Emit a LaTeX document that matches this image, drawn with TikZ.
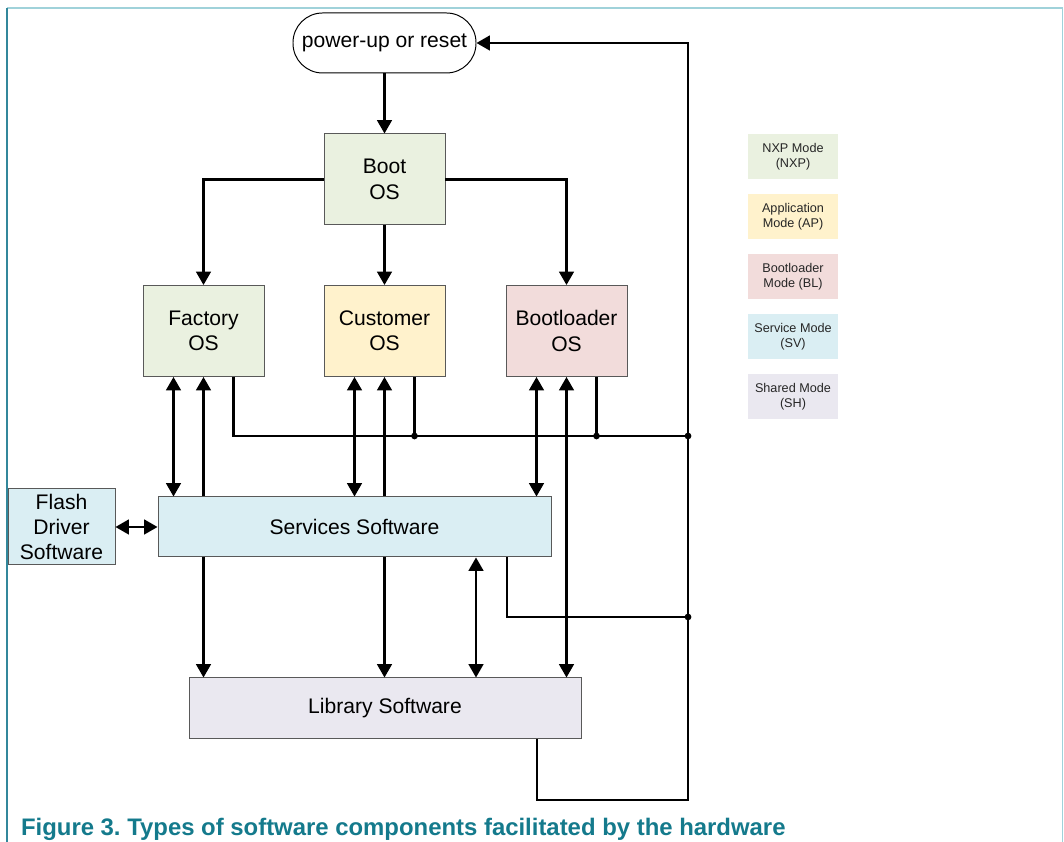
\documentclass[tikz,border=0pt]{standalone}
\usepackage{fontspec}
\setmainfont{Liberation Sans}
\usetikzlibrary{arrows.meta}
\frenchspacing
\definecolor{nxpgreen}{RGB}{234,241,224}
\definecolor{apyellow}{RGB}{255,242,204}
\definecolor{blpink}{RGB}{242,220,219}
\definecolor{svblue}{RGB}{218,238,243}
\definecolor{shgrey}{RGB}{234,232,240}
\definecolor{capteal}{RGB}{20,122,140}
\definecolor{framelight}{RGB}{160,210,218}
\definecolor{framedark}{RGB}{50,135,155}
\tikzset{
  blk/.style={draw=black!65, line width=0.7pt, minimum width=3.025cm, minimum height=2.275cm,
    align=center, font=\fontsize{15}{18}\selectfont},
  wide/.style={blk, minimum width=9.8cm, minimum height=1.5cm},
  key/.style={minimum width=2.25cm, minimum height=1.125cm, align=center,
    font=\fontsize{9}{10.7}\selectfont, text=black!85},
  start/.style={draw, line width=0.7pt, rounded corners=0.74cm, minimum width=4.575cm,
    minimum height=1.5cm, font=\fontsize{15}{18}\selectfont},
}
\begin{document}
\begin{tikzpicture}[line width=1.5pt, >={Triangle[width=10.5pt,length=9.5pt]}]
  \useasboundingbox (0,0) rectangle (26.6,21.05);
  \draw[line width=0.8pt, framelight] (0.175,20.85) -- (26.56,20.85) -- (26.56,0);
  \draw[line width=0.8pt, framedark] (0.175,0) -- (0.175,20.85);

  \node[start] (power) at (9.6125,19.975) {power-up or reset};
  \node[blk, fill=nxpgreen, below of=power, node distance=3.4125cm] (boot) {Boot\\OS};
  \node[blk, fill=apyellow, below of=boot, node distance=3.7875cm] (customer) {Customer\\OS};
  \node[blk, fill=nxpgreen, left of=customer, node distance=4.525cm] (factory) {Factory\\OS};
  \node[blk, fill=blpink, right of=customer, node distance=4.55cm] (bootloader) {Bootloader\\OS};
  \node[wide, fill=svblue, below of=customer, node distance=4.9cm, xshift=-0.75cm,
    minimum width=9.825cm] (services) {Services Software};
  \node[wide, fill=shgrey, below of=services, node distance=4.5375cm, xshift=0.7625cm,
    minimum height=1.525cm] (library) {Library Software};
  \node[blk, fill=svblue, left of=services, node distance=7.325cm, minimum width=2.675cm,
    minimum height=1.9cm] (flash) {Flash\\Driver\\Software};

  % legend
  \node[key, fill=nxpgreen, right of=boot, node distance=10.2125cm, yshift=0.5625cm] (knxp) {NXP Mode\\(NXP)};
  \node[key, fill=apyellow, below of=knxp, node distance=1.5cm] (kap) {Application\\Mode (AP)};
  \node[key, fill=blpink, below of=kap, node distance=1.5cm] (kbl) {Bootloader\\Mode (BL)};
  \node[key, fill=svblue, below of=kbl, node distance=1.5cm] (ksv) {Service Mode\\(SV)};
  \node[key, fill=shgrey, below of=ksv, node distance=1.5cm] (ksh) {Shared Mode\\(SH)};

  \coordinate (rtop) at (17.2,19.975);
  \coordinate (jos) at (17.2,10.15);
  \coordinate (jsv) at (17.2,5.625);
  \coordinate (rbot) at (17.2,1.05);

  \draw[->] (power) -- (boot);
  \draw[->] (boot) -- (customer);
  \draw[->] (boot.west) -| (factory.north);
  \draw[->] (boot.east) -| (bootloader.north);

  \draw[<->] ([xshift=-0.75cm]factory.south) -- ([xshift=-0.75cm]factory.south |- services.north);
  \draw[->] (factory.south |- services.north) -- (factory.south);
  \draw[<->] ([xshift=-0.75cm]customer.south) -- ([xshift=-0.75cm]customer.south |- services.north);
  \draw[->] (customer.south |- services.north) -- (customer.south);
  \draw[<->] ([xshift=-0.75cm]bootloader.south) -- ([xshift=-0.75cm]bootloader.south |- services.north);
  \draw[<->] (bootloader.south) -- (bootloader.south |- library.north);

  \draw[->] (factory.south |- services.south) -- (factory.south |- library.north);
  \draw[->] (customer.south |- services.south) -- (customer.south |- library.north);
  \draw[<->] ([xshift=3.0375cm]services.south) -- ([xshift=3.0375cm]services.south |- library.north);
  \draw[<->] (flash) -- (services);

  % back to reset
  \draw ([xshift=0.75cm]factory.south) |- (jos);
  \draw ([xshift=0.75cm]customer.south) -- ([xshift=0.75cm]customer.south |- jos);
  \draw ([xshift=0.75cm]bootloader.south) -- ([xshift=0.75cm]bootloader.south |- jos);
  \draw ([xshift=3.8125cm]services.south) |- (jsv);
  \draw[->] ([xshift=3.8cm]library.south) |- (rbot) -- (rtop) -- (power);
  \fill ([xshift=0.75cm]customer.south |- jos) circle (2.4pt);
  \fill ([xshift=0.75cm]bootloader.south |- jos) circle (2.4pt);
  \fill (jos) circle (2.4pt);
  \fill (jsv) circle (2.4pt);

  \node[anchor=base west, inner sep=0pt, text=capteal, font=\fontsize{17}{20}\selectfont\bfseries]
    (caption) at (0.5,0.16) {Figure 3. Types of software components facilitated by the hardware};
\end{tikzpicture}
\end{document}
